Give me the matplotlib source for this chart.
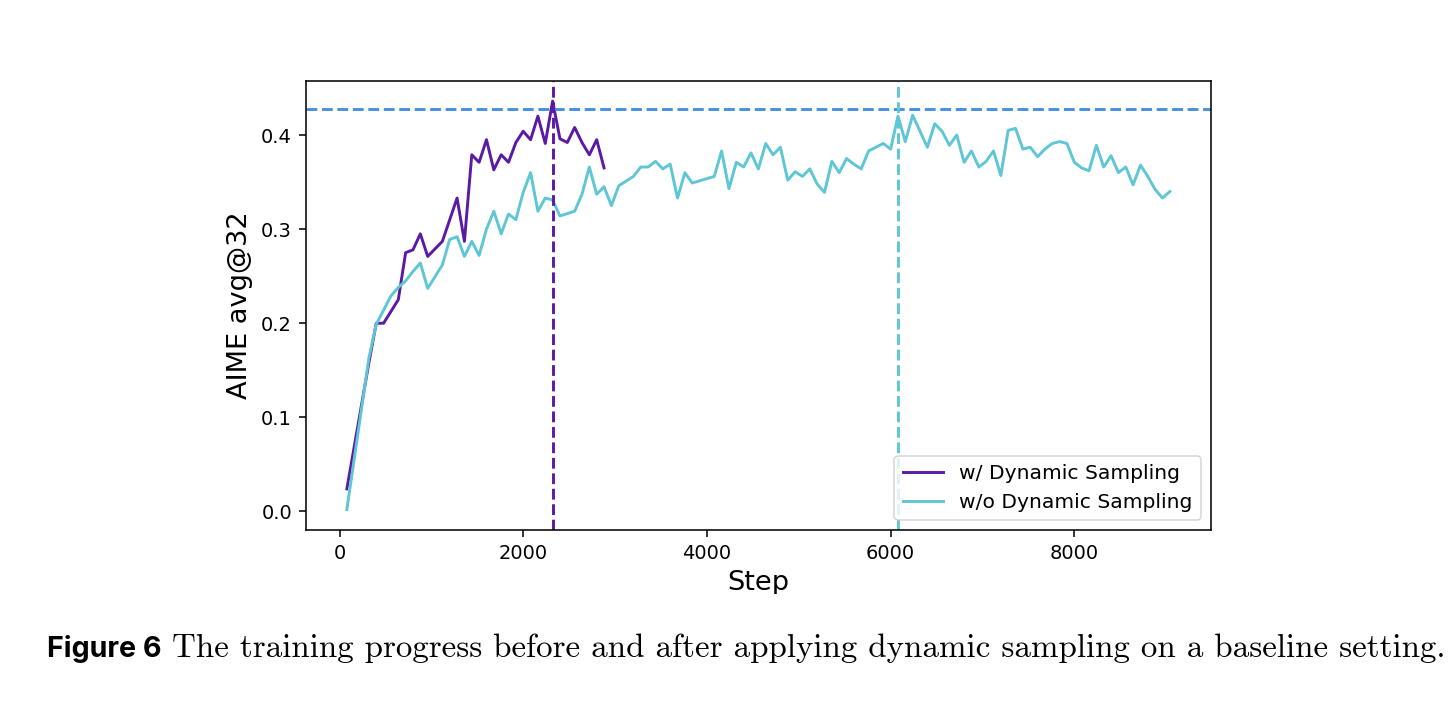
import matplotlib
matplotlib.use("Agg")
import matplotlib.pyplot as plt
from matplotlib.patches import Rectangle

# ---------------- data ----------------
steps_dyn = [80, 320, 400, 480, 640, 720, 800, 880, 960, 1120, 1280, 1360,
             1440, 1520, 1600, 1680, 1760, 1840, 1920, 2000, 2080, 2160,
             2240, 2320, 2400, 2480, 2560, 2640, 2720, 2800, 2880]
aime_dyn = [0.024, 0.158, 0.200, 0.200, 0.225, 0.275, 0.278, 0.295, 0.271,
            0.287, 0.333, 0.287, 0.379, 0.371, 0.395, 0.363, 0.379, 0.371,
            0.392, 0.404, 0.395, 0.420, 0.391, 0.436, 0.396, 0.392, 0.408,
            0.392, 0.379, 0.395, 0.365]

steps_nodyn = [80, 320, 400, 560, 640, 720, 800, 880, 960, 1120, 1200, 1280,
               1360, 1440, 1520, 1600, 1680, 1760, 1840, 1920, 2000, 2080,
               2160, 2240, 2320, 2400, 2560, 2640, 2720, 2800, 2880, 2960,
               3040, 3120, 3200, 3280, 3360, 3440, 3520, 3600, 3680, 3760,
               3840, 4080, 4160, 4240, 4320, 4400, 4480, 4560, 4640, 4720,
               4800, 4880, 4960, 5040, 5120, 5200, 5280, 5360, 5440, 5520,
               5600, 5680, 5760, 5920, 6000, 6080, 6160, 6240, 6320, 6400,
               6480, 6560, 6640, 6720, 6800, 6880, 6960, 7040, 7120, 7200,
               7280, 7360, 7440, 7520, 7600, 7680, 7760, 7840, 7920, 8000,
               8080, 8160, 8240, 8320, 8400, 8480, 8560, 8640, 8720, 8800,
               8880, 8960, 9040]
aime_nodyn = [0.002, 0.163, 0.199, 0.229, 0.238, 0.245, 0.255, 0.264, 0.237,
              0.262, 0.289, 0.292, 0.271, 0.287, 0.272, 0.300, 0.319, 0.295,
              0.316, 0.310, 0.339, 0.360, 0.319, 0.333, 0.331, 0.314, 0.319,
              0.337, 0.366, 0.337, 0.345, 0.325, 0.346, 0.351, 0.356, 0.366,
              0.366, 0.372, 0.364, 0.369, 0.333, 0.360, 0.349, 0.356, 0.383,
              0.343, 0.371, 0.366, 0.381, 0.364, 0.391, 0.379, 0.387, 0.352,
              0.361, 0.356, 0.364, 0.348, 0.339, 0.372, 0.360, 0.375, 0.369,
              0.364, 0.383, 0.391, 0.385, 0.420, 0.393, 0.421, 0.404, 0.387,
              0.412, 0.404, 0.389, 0.400, 0.371, 0.383, 0.366, 0.372, 0.383,
              0.357, 0.405, 0.407, 0.385, 0.387, 0.377, 0.385, 0.391, 0.393,
              0.391, 0.371, 0.365, 0.362, 0.389, 0.366, 0.378, 0.360, 0.366,
              0.347, 0.368, 0.356, 0.342, 0.333, 0.340]

best_step_dyn = 2320
best_step_nodyn = 6080
ref_level = 0.428

labels = ["w/ Dynamic Sampling", "w/o Dynamic Sampling"]
x_label = "Step"
y_label = "AIME avg@32"
cap_bold = "Figure 6"
cap_text = ("The training progress before and after applying dynamic "
            "sampling on a baseline setting.")

# ---------------- style ----------------
c_dyn = "#5b1aa6"
c_nodyn = "#5ec6d4"
c_ref = "#4a8fde"

W, H = 1456, 708
fig = plt.figure(figsize=(W / 100, H / 100), dpi=100)
fig.patch.set_facecolor("white")

ax = fig.add_axes([305.7 / W, (H - 530) / H, (1211 - 305.7) / W, (530 - 80.7) / H])

lw = 2.1
ax.plot(steps_dyn, aime_dyn, color=c_dyn, lw=lw, label=labels[0])
ax.plot(steps_nodyn, aime_nodyn, color=c_nodyn, lw=lw, label=labels[1])
ax.axhline(ref_level, color=c_ref, lw=lw, ls="--")
ax.axvline(best_step_dyn, color=c_dyn, lw=lw, ls="--")
ax.axvline(best_step_nodyn, color=c_nodyn, lw=lw, ls="--")

ax.set_xlabel(x_label, fontsize=19.6, labelpad=5.6)
ax.set_ylabel(y_label, fontsize=19.6, labelpad=5.6)
ax.tick_params(labelsize=14, length=4.9, width=1.12, pad=4.9)
for s in ax.spines.values():
    s.set_linewidth(1.12)

leg = ax.legend(loc="lower right", fontsize=14.6, framealpha=0.8)
leg.get_frame().set_linewidth(1.12)

# the reference image is cropped just below the x label baseline
fig.patches.append(Rectangle((0, (H - 615) / H), 1, (615 - 594) / H,
                             transform=fig.transFigure, facecolor="white",
                             edgecolor="none", zorder=10))

# ---------------- caption ----------------
base_y = (H - 656.7) / H
t1 = fig.text(46.7 / W, base_y, cap_bold, fontsize=20, fontweight="bold",
              family=["Inter", "DejaVu Sans"], va="baseline", ha="left", zorder=11)
t2 = fig.text(171.7 / W, base_y, cap_text, fontsize=20,
              family=["cmr10", "DejaVu Serif"], va="baseline", ha="left", zorder=11)

fig.canvas.draw()
r = fig.canvas.get_renderer()
for t, target in ((t1, 161.7 - 46.7), (t2, 1444 - 171.7)):
    w = t.get_window_extent(r).width
    t.set_fontsize(t.get_fontsize() * target / w)

fig.savefig("out.png", dpi=100, facecolor="white")
